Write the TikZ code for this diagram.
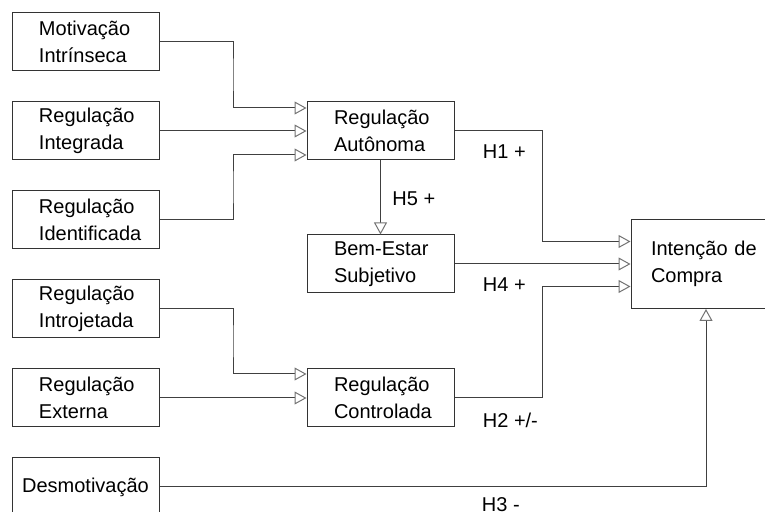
\documentclass[tikz,border=0pt]{standalone}
\usepackage{fontspec}
\setmainfont{Liberation Sans}
\usepackage{tikz}
\usetikzlibrary{arrows.meta, positioning, calc}

\begin{document}
\begin{tikzpicture}[x=0.5pt, y=-0.5pt, node distance=15pt,
            font=\fontsize{10pt}{13.3pt}\selectfont,
            frame/.style={draw=black!80, line width=0.5pt, rectangle, minimum height=29pt, minimum width=73.5pt, inner sep=2pt},
            box/.style={frame, text width=46.5pt, inner xsep=13.5pt, align=left},
            lbl/.style={anchor=west, inner sep=0pt},
            arr/.style={draw=black!75, line width=0.5pt, -{Triangle[fill=white, color=black!55, length=6pt, width=6.5pt, line width=0.5pt]}}]
            \useasboundingbox (0,0) rectangle (765,512);

            \node[box] (mot) at (85.5,42) {Motivação\\Intrínseca};
            \node[box, below=of mot] (integ) {Regulação\\Integrada};
            \node[box, below=of integ] (ident) {Regulação\\Identificada};
            \node[box, below=of ident] (intro) {Regulação\\Introjetada};
            \node[box, below=of intro] (ext) {Regulação\\Externa};
            \node[frame, below=of ext, align=center] (desm) {Desmotivação};

            \node[box, right=73.5pt of integ] (auto) {Regulação\\Autônoma};
            \node[box, below=37pt of auto] (bem) {\mbox{Bem-Estar}\\Subjetivo};
            \node[box, right=73.5pt of ext] (contr) {Regulação\\Controlada};
            \node[frame, right=88pt of bem, minimum height=44.5pt, text width=55pt, inner xsep=10pt, align=left] (intc) {Intenção de\\Compra};

            % arrow end points
            \coordinate (a1) at ($(auto.west)+(0,11.5pt)$);
            \coordinate (a3) at ($(auto.west)+(0,-12pt)$);
            \coordinate (c1) at ($(contr.west)+(0,12pt)$);
            \coordinate (i1) at ($(intc.west)+(0,11.25pt)$);
            \coordinate (i3) at ($(intc.west)+(0,-11.25pt)$);

            \draw[arr] (mot.east) -| ($(mot.east)!.5!(a1)$) |- (a1);
            \draw[arr] (integ.east) -- (auto.west);
            \draw[arr] (ident.east) -| ($(ident.east)!.5!(a3)$) |- (a3);
            \draw[arr] (intro.east) -| ($(intro.east)!.5!(c1)$) |- (c1);
            \draw[arr] (ext.east) -- (contr.west);
            \draw[arr] (auto.south) -- (bem.north);
            \draw[arr] (auto.east) -| ($(auto.east)!.5!(i1)$) |- (i1);
            \draw[arr] (bem.east) -- (intc.west);
            \draw[arr] (contr.east) -| ($(contr.east)!.5!(i3)$) |- (i3);
            \draw[arr] (desm.east) -| (intc.south);

            \node[lbl] (h5) at ($(auto.south)+(5.75pt,-19pt)$) {H5 +};
            \node[lbl] (h1) at ($(auto.east)+(14pt,-10.5pt)$) {H1 +};
            \node[lbl] (h4) at ($(bem.east)+(14pt,-10.5pt)$) {H4 +};
            \node[lbl] (h2) at ($(contr.east)+(14pt,-11pt)$) {H2 +/-};
            \node[lbl] (h3) at ($(desm.east)+(161pt,-9pt)$) {H3 -};
        \end{tikzpicture}
\end{document}
